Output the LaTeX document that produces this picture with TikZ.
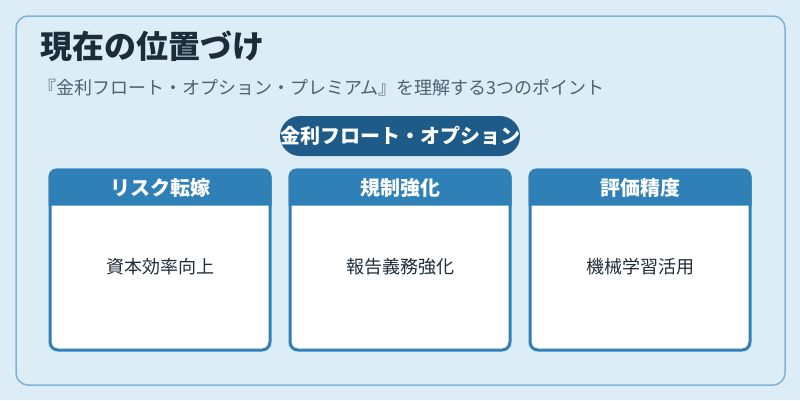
\documentclass[tikz,border=0pt]{standalone}
\usepackage{fontspec}
\setmainfont{Noto Sans CJK JP}
\usetikzlibrary{positioning,calc}
\definecolor{bgblue}{HTML}{DDEDF7}
\definecolor{frameblue}{HTML}{7DB3D6}
\definecolor{titleink}{HTML}{1B2D3B}
\definecolor{subink}{HTML}{4D6272}
\definecolor{pillblue}{HTML}{1F5B88}
\definecolor{cardblue}{HTML}{2E80B7}
\definecolor{bodyink}{HTML}{1E2E3A}

\begin{document}
\begin{tikzpicture}[x=1pt,y=-1pt,
  panel/.style={draw=frameblue,line width=1.5pt,fill=bgblue,rounded corners=12pt},
  pill/.style={fill=pillblue,text=white,font=\fontsize{20}{24}\selectfont\bfseries,rounded corners=20pt,minimum width=240pt,minimum height=40pt,inner sep=0pt},
  card/.style={draw=cardblue,line width=3pt,fill=white,rounded corners=8pt,minimum width=220pt,minimum height=180pt,inner sep=0pt},
  headtext/.style={text=white,font=\fontsize{20}{24}\selectfont\bfseries},
  bodytext/.style={text=bodyink,font=\fontsize{18}{22}\selectfont}]
\fill[bgblue] (0,0) rectangle (800,400);
\useasboundingbox (0,0) rectangle (800,400);
\draw[panel] (16,16) rectangle (785,385);
\node[anchor=west,text=titleink,font=\fontsize{32}{38}\selectfont\bfseries,inner sep=0pt] (title) at (40,46) {現在の位置づけ};
\node[anchor=west,text=subink,font=\fontsize{18}{22}\selectfont,inner sep=0pt] (subtitle) at (38,88) {『金利フロート・オプション・プレミアム』を理解する3つのポイント};
\node[pill] (opt) at (400,136) {金利フロート・オプション};
% three cards
\node[card] (b1) at (160,260) {};
\node[card] (b2) at (400,260) {};
\node[card] (b3) at (640,260) {};
\fill[cardblue] ([yshift=-37pt]b1.north west) [rounded corners=8pt]-- (b1.north west) -- (b1.north east) [sharp corners]-- ([yshift=-37pt]b1.north east) -- cycle;
\fill[cardblue] ([yshift=-37pt]b2.north west) [rounded corners=8pt]-- (b2.north west) -- (b2.north east) [sharp corners]-- ([yshift=-37pt]b2.north east) -- cycle;
\fill[cardblue] ([yshift=-37pt]b3.north west) [rounded corners=8pt]-- (b3.north west) -- (b3.north east) [sharp corners]-- ([yshift=-37pt]b3.north east) -- cycle;
\node[headtext] (h1) at ([yshift=-19pt]b1.north) {リスク転嫁};
\node[headtext] (h2) at ([yshift=-19pt]b2.north) {規制強化};
\node[headtext] (h3) at ([yshift=-19pt]b3.north) {評価精度};
\node[bodytext] (t1) at ([yshift=-7pt]b1.center) {資本効率向上};
\node[bodytext] (t2) at ([yshift=-7pt]b2.center) {報告義務強化};
\node[bodytext] (t3) at ([yshift=-7pt]b3.center) {機械学習活用};
\end{tikzpicture}
\end{document}
